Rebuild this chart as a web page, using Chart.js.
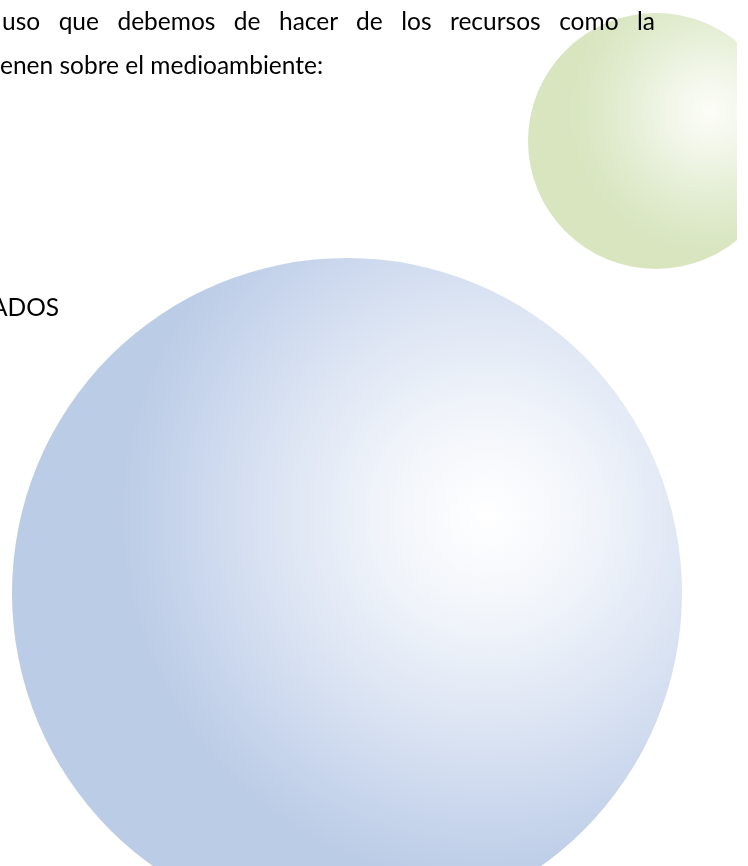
<!DOCTYPE html>
<html>
<head>
<meta charset="utf-8">
<script src="https://cdn.jsdelivr.net/npm/chart.js@4.4.1/dist/chart.umd.min.js"></script>
<style>
  body { margin: 0; background: #fff; }
  #wrap { position: relative; width: 748px; height: 866px; overflow: hidden; }
  #box { position: absolute; left: 0; top: 0; width: 748px; height: 866px; }
  .txt { position: absolute; font-family: Lato, "Open Sans", sans-serif; font-size: 24.5px; color: #000; white-space: nowrap; }
  #l1 { left: 2px; top: 6px; width: 653px; text-align: justify; text-align-last: justify; white-space: normal; }
  #l2 { left: 0px; top: 50px; }
  #l3 { left: -9px; top: 292px; }
</style>
</head>
<body>
<div id="wrap">
  <div id="box"><canvas id="esferas"></canvas></div>
  <div class="txt" id="l1">uso que debemos de hacer de los recursos como la</div>
  <div class="txt" id="l2">enen sobre el medioambiente:</div>
  <div class="txt" id="l3">ADOS</div>
</div>
<script>
  // datos (pixeles de la pagina)
  const labels = ["esfera azul", "esfera verde"];
  const xValues = [347, 656];
  const yValues = [593, 141];
  const radii = [335, 128];

  // colores: borde, tonos intermedios
  const edgeColors = ["#BBCCE6", "#D8E5BF"];
  const stops = [
    ["#FFFFFF", "#F0F4FA", "#DEE6F4", "#CAD7ED", "#BBCCE6"],
    ["#FCFDF8", "#F1F6E8", "#E6EFD7", "#DDE9C8", "#D8E5BF"]
  ];

  function sphereFill(context) {
    const i = context.dataIndex;
    const chart = context.chart;
    if (!chart.chartArea || !context.raw) return edgeColors[i];
    const p = context.raw;
    const cx = chart.scales.x.getPixelForValue(p.x);
    const cy = chart.scales.y.getPixelForValue(p.y);
    const hx = cx + p.r * 0.42;
    const hy = cy - p.r * 0.23;
    const g = chart.ctx.createRadialGradient(hx, hy, 0, hx, hy, p.r * 1.1);
    g.addColorStop(0, stops[i][0]);
    g.addColorStop(0.3, stops[i][1]);
    g.addColorStop(0.55, stops[i][2]);
    g.addColorStop(0.8, stops[i][3]);
    g.addColorStop(1, stops[i][4]);
    return g;
  }

  const points = xValues.map((x, i) => ({ x: x, y: yValues[i], r: radii[i] }));

  const ctx = document.getElementById("esferas").getContext("2d");
  const chart = new Chart(ctx, {
    type: "bubble",
    data: {
      labels: labels,
      datasets: [{
        data: points,
        backgroundColor: sphereFill,
        hoverBackgroundColor: sphereFill,
        borderWidth: 0,
        hoverBorderWidth: 0,
        hoverRadius: 0
      }]
    },
    options: {
      responsive: true,
      maintainAspectRatio: false,
      animation: false,
      events: [],
      layout: { autoPadding: false, padding: { left: 0, top: 0, right: 11, bottom: 0 } },
      plugins: { legend: { display: false }, tooltip: { enabled: false } },
      scales: {
        x: { type: "linear", min: 0, max: 737, display: false },
        y: { type: "linear", min: 0, max: 866, reverse: true, display: false }
      }
    }
  });
</script>
</body>
</html>
